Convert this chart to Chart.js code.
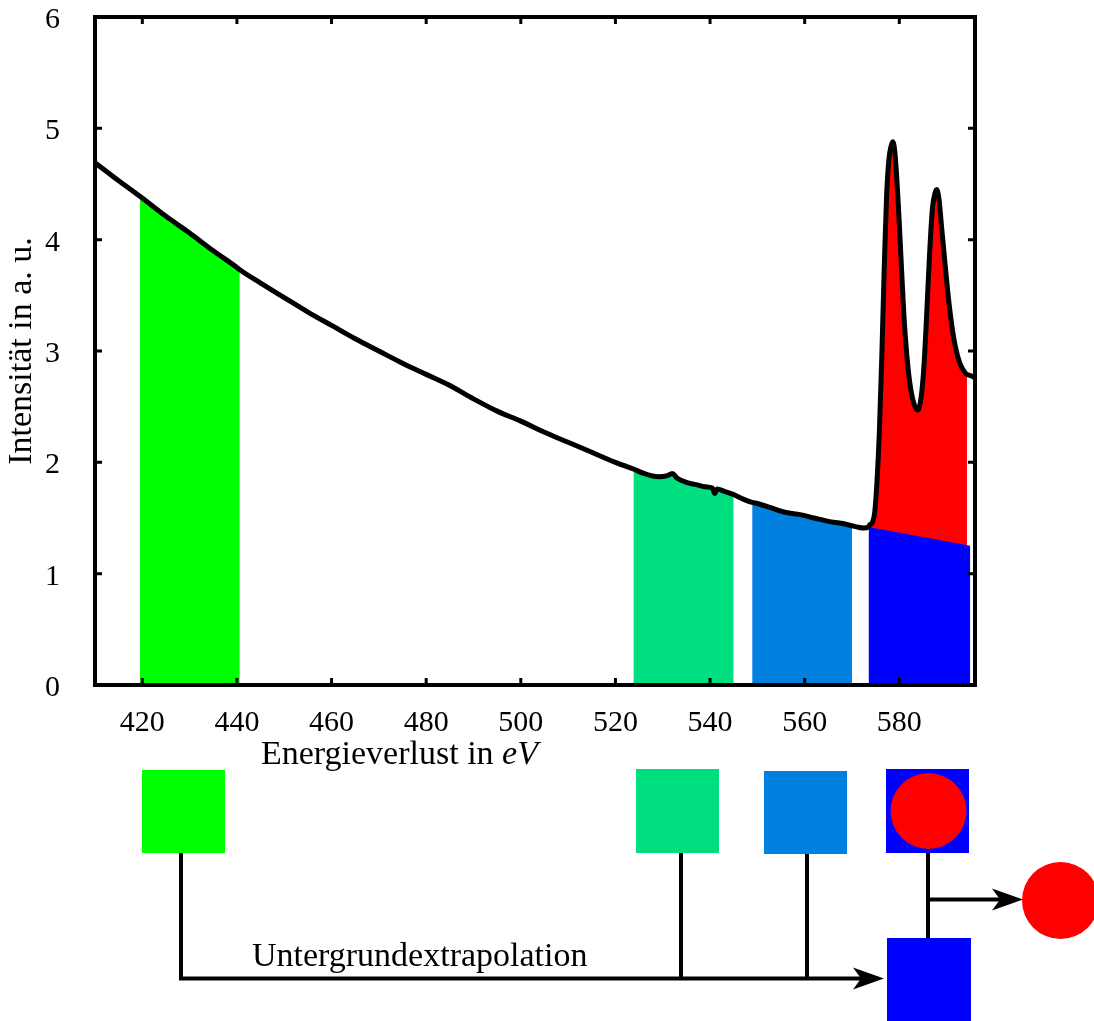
<!DOCTYPE html>
<html><head><meta charset="utf-8">
<script src="https://cdn.jsdelivr.net/npm/chart.js@4.4.1/dist/chart.umd.min.js"></script>
<style>html,body{margin:0;padding:0;background:#fff;} #wrap{position:relative;width:1094px;height:1021px;}</style>
</head><body><div id="wrap"><canvas id="c"></canvas></div>
<script>
// ---- data ----
const energy = [410, 415, 419.5, 425, 430, 435, 440, 440.6, 445, 450, 455, 460, 465, 470, 475, 480, 485, 490, 495, 500, 505, 510, 515, 520, 523.8, 526, 529, 531, 532, 533, 535, 537, 539, 540.5, 541, 541.5, 543, 545, 547, 548.9, 550, 553, 556, 559, 562, 565, 568, 570, 571, 572.5, 573.5, 573.8, 574.3, 574.8, 575.3, 575.8, 576.3, 576.8, 577.3, 577.8, 578.2, 578.6, 579.0, 579.4, 579.8, 580.4, 581.0, 581.6, 582.2, 583.0, 583.9, 584.6, 585.2, 585.8, 586.4, 587.0, 587.5, 587.9, 588.4, 588.9, 589.5, 590.2, 591.0, 591.8, 592.8, 594.0, 594.3, 595, 596];
const intensity = [4.69, 4.53, 4.39, 4.21, 4.06, 3.90, 3.75, 3.73, 3.61, 3.48, 3.35, 3.23, 3.11, 3.00, 2.89, 2.79, 2.69, 2.57, 2.46, 2.37, 2.27, 2.18, 2.09, 2.00, 1.94, 1.90, 1.87, 1.88, 1.90, 1.86, 1.82, 1.80, 1.78, 1.77, 1.72, 1.76, 1.74, 1.71, 1.67, 1.64, 1.63, 1.59, 1.55, 1.53, 1.50, 1.47, 1.45, 1.43, 1.42, 1.41, 1.42, 1.44, 1.46, 1.55, 1.84, 2.29, 2.95, 3.72, 4.38, 4.72, 4.83, 4.88, 4.81, 4.60, 4.31, 3.80, 3.30, 2.96, 2.72, 2.54, 2.47, 2.58, 2.86, 3.34, 3.87, 4.28, 4.41, 4.45, 4.36, 4.13, 3.86, 3.55, 3.26, 3.05, 2.89, 2.80, 2.79, 2.78, 2.76];
// integration windows (eV)
const greenWindow = [419.5, 440.6];
const tealWindow = [523.8, 545];
const skyWindow = [548.9, 570];
const edgeWindow = [573.8, 594.3];
// extrapolated background under the edge
const bgEnergy = [573.5, 595];
const bgIntensity = [1.42, 1.25];
// ticks
const xTickValues = [420, 440, 460, 480, 500, 520, 540, 560, 580];
const yTickValues = [0, 1, 2, 3, 4, 5, 6];
const xTitle = ['Energieverlust in ', 'eV'];
const yTitle = 'Intensität in a. u.';
const diagramLabel = 'Untergrundextrapolation';

// ---- build ----
const FONT = '"Liberation Serif", "Times New Roman", serif';
const curve = energy.map((e, i) => ({x: e, y: intensity[i]}));
const windowPts = w => curve.filter(p => p.x >= w[0] && p.x <= w[1]);
const bgPts = bgEnergy.map((e, i) => ({x: e, y: bgIntensity[i]}));

const fillDs = (data, color, order) => ({
  data, borderWidth: 0, pointRadius: 0, backgroundColor: color, borderColor: color,
  fill: 'origin', order, cubicInterpolationMode: 'monotone'
});

const framePlugin = {
  id: 'frame',
  afterDatasetsDraw(chart) {
    const ctx = chart.ctx, a = chart.chartArea;
    const xs = chart.scales.x, ys = chart.scales.y;
    ctx.save();
    ctx.strokeStyle = '#000';
    ctx.lineWidth = 3;
    ctx.beginPath();
    xTickValues.forEach(v => {
      const px = xs.getPixelForValue(v);
      ctx.moveTo(px, a.bottom); ctx.lineTo(px, a.bottom - 7);
      ctx.moveTo(px, a.top); ctx.lineTo(px, a.top + 7);
    });
    yTickValues.forEach(v => {
      const py = ys.getPixelForValue(v);
      ctx.moveTo(a.left, py); ctx.lineTo(a.left + 7, py);
      ctx.moveTo(a.right, py); ctx.lineTo(a.right - 7, py);
    });
    ctx.stroke();
    ctx.lineWidth = 4;
    ctx.strokeRect(a.left, a.top, a.right - a.left, a.bottom - a.top);
    ctx.restore();
  }
};

function arrowHead(ctx, tipX, tipY, dir) {
  ctx.beginPath();
  ctx.moveTo(tipX, tipY);
  ctx.lineTo(tipX - 31 * dir, tipY - 11);
  ctx.lineTo(tipX - 23 * dir, tipY);
  ctx.lineTo(tipX - 31 * dir, tipY + 11);
  ctx.closePath();
  ctx.fill();
}

const diagramPlugin = {
  id: 'diagram',
  afterDraw(chart) {
    const ctx = chart.ctx;
    ctx.save();
    ctx.fillStyle = '#000';
    ctx.textBaseline = 'alphabetic';
    ctx.textAlign = 'left';
    ctx.font = '34px ' + FONT;
    const w1 = ctx.measureText(xTitle[0]).width;
    ctx.fillText(xTitle[0], 261, 764);
    ctx.font = 'italic 34px ' + FONT;
    ctx.fillText(xTitle[1], 261 + w1, 764);

    ctx.fillStyle = '#00FF00'; ctx.fillRect(142, 770, 83, 83);
    ctx.fillStyle = '#00DF80'; ctx.fillRect(636, 769, 83, 84);
    ctx.fillStyle = '#0080DF'; ctx.fillRect(764, 771, 83, 83);
    ctx.fillStyle = '#0000FF'; ctx.fillRect(886, 769, 83, 84);
    ctx.fillStyle = '#0000FF'; ctx.fillRect(887, 938, 84, 84);
    ctx.fillStyle = '#FF0000';
    ctx.beginPath(); ctx.arc(928.5, 811, 38, 0, Math.PI * 2); ctx.fill();
    ctx.beginPath(); ctx.arc(1060.5, 900.5, 38.5, 0, Math.PI * 2); ctx.fill();

    ctx.strokeStyle = '#000';
    ctx.lineWidth = 4;
    ctx.lineCap = 'butt';
    ctx.beginPath();
    ctx.moveTo(181, 853); ctx.lineTo(181, 978.5); ctx.lineTo(862, 978.5);
    ctx.moveTo(681, 853); ctx.lineTo(681, 978.5);
    ctx.moveTo(807, 854); ctx.lineTo(807, 978.5);
    ctx.moveTo(928, 853); ctx.lineTo(928, 938);
    ctx.moveTo(928, 899.5); ctx.lineTo(1002, 899.5);
    ctx.stroke();
    ctx.fillStyle = '#000';
    arrowHead(ctx, 884, 978.5, 1);
    arrowHead(ctx, 1023, 899.5, 1);

    ctx.font = '34px ' + FONT;
    ctx.textAlign = 'left';
    ctx.fillText(diagramLabel, 252, 966);
    ctx.restore();
  }
};

new Chart(document.getElementById('c'), {
  type: 'line',
  data: {
    datasets: [
      {data: curve, borderColor: '#000', borderWidth: 5, pointRadius: 0, fill: false, order: 0,
       cubicInterpolationMode: 'monotone'},
      fillDs(windowPts(greenWindow), '#00FF00', 3),
      fillDs(windowPts(tealWindow), '#00DF80', 3),
      fillDs(windowPts(skyWindow), '#0080DF', 3),
      {data: bgPts, borderWidth: 0, pointRadius: 0, backgroundColor: '#0000FF', fill: 'origin', order: 4},
      fillDs(windowPts(edgeWindow), '#FF0000', 5)
    ]
  },
  options: {
    responsive: true, maintainAspectRatio: false, animation: false,
    layout: {padding: {top: 17, right: 119, left: 0, bottom: 0}},
    plugins: {legend: {display: false}, tooltip: {enabled: false}},
    scales: {
      x: {
        type: 'linear', min: 410, max: 596,
        afterBuildTicks: s => { s.ticks = xTickValues.map(v => ({value: v})); },
        afterFit: s => { s.height = 336; s.paddingLeft = 0; s.paddingRight = 0; },
        grid: {display: false}, border: {display: false},
        ticks: {color: '#000', font: {family: FONT, size: 30}, padding: 12, maxRotation: 0}
      },
      y: {
        type: 'linear', min: 0, max: 6,
        afterBuildTicks: s => { s.ticks = yTickValues.map(v => ({value: v})); },
        afterFit: s => { s.width = 95; s.paddingTop = 0; s.paddingBottom = 0; },
        grid: {display: false}, border: {display: false},
        ticks: {color: '#000', font: {family: FONT, size: 30}, padding: 27, labelOffset: 3},
        title: {display: true, text: yTitle, color: '#000', font: {family: FONT, size: 34}, padding: {top: 2, bottom: 0}}
      }
    }
  },
  plugins: [framePlugin, diagramPlugin]
});
</script>
</body></html>
